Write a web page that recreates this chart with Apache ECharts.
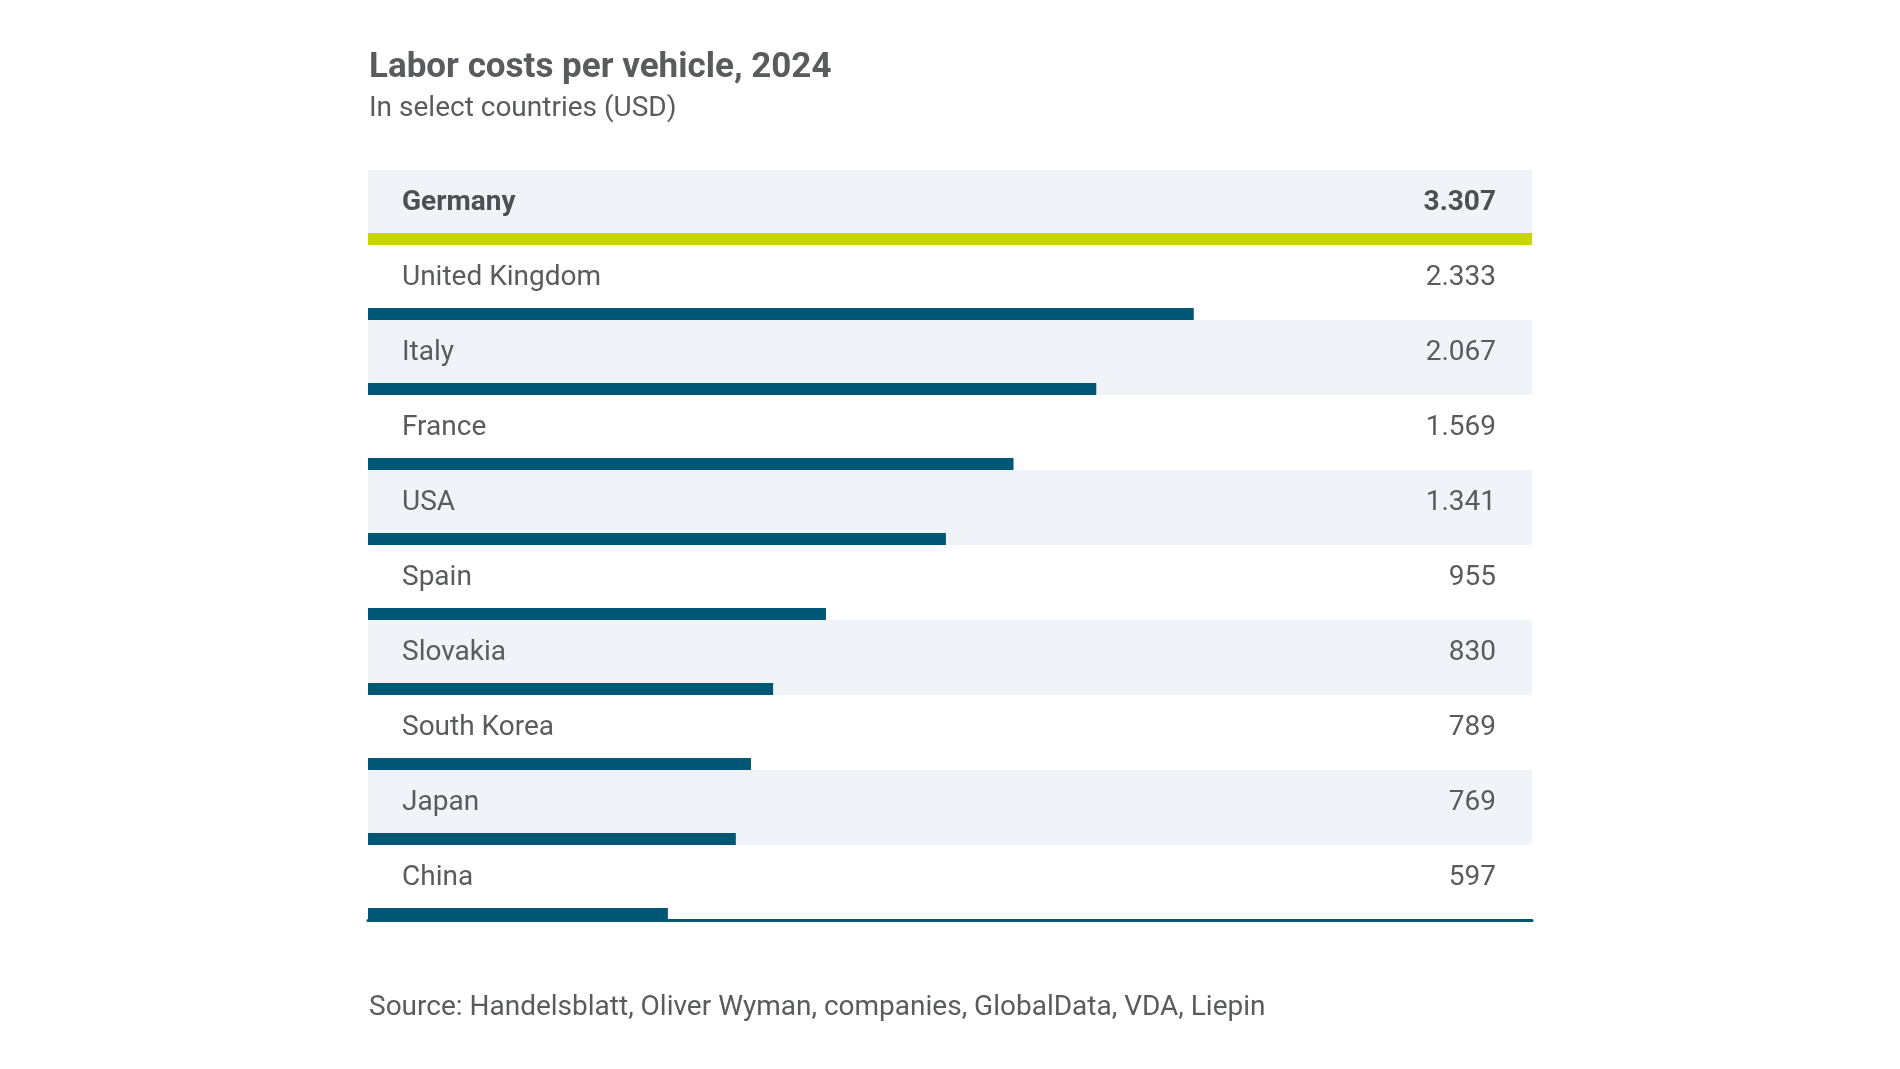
<!DOCTYPE html>
<html>
<head>
<meta charset="utf-8">
<script src="https://cdn.jsdelivr.net/npm/echarts@6/dist/echarts.min.js"></script>
<style>
  html, body { margin: 0; padding: 0; background: #ffffff; }
  #chart { width: 1900px; height: 1069px; }
</style>
</head>
<body>
<div id="chart"></div>
<script>
// ---- data ----
const countries = ['Germany', 'United Kingdom', 'Italy', 'France', 'USA', 'Spain', 'Slovakia', 'South Korea', 'Japan', 'China'];
// printed values (USD)
const values = [3307, 2333, 2067, 1569, 1341, 955, 830, 789, 769, 597];
// bar lengths as drawn in the picture, in the same USD axis (Germany bar = full width)
const barLengths = [3307, 2346, 2069, 1834, 1642, 1301, 1151, 1088, 1045, 852];
const axisMax = 3307;
const titleText = 'Labor costs per vehicle, 2024';
const subtitleText = 'In select countries (USD)';
const sourceText = 'Source: Handelsblatt, Oliver Wyman, companies, GlobalData, VDA, Liepin';

// ---- styles ----
const FONT = 'Roboto';
const GREY = '#5a5b5e';
const TEAL = '#005775';
const GREEN = '#c8d400';
const BAND = '#f0f4f9';

function fmt(v) {
  return String(v).replace(/\B(?=(\d{3})+(?!\d))/g, '.');
}
const valueLabels = values.map(fmt);

const chart = echarts.init(document.getElementById('chart'));

const labelRich = {
  n: { fontFamily: FONT, fontSize: 28, color: GREY },
  hl: { fontFamily: FONT, fontSize: 28, color: '#4e4f52', fontWeight: 'bold' }
};

chart.setOption({
  backgroundColor: '#ffffff',
  animation: false,
  title: [
    {
      text: titleText, left: 369, top: 51, padding: 0,
      textStyle: { fontFamily: FONT, fontSize: 35, fontWeight: 'bold', color: GREY }
    },
    {
      text: subtitleText, left: 369, top: 95, padding: 0,
      textStyle: { fontFamily: FONT, fontSize: 28, fontWeight: 'normal', color: GREY }
    },
    {
      text: sourceText, left: 369, top: 994, padding: 0,
      textStyle: { fontFamily: FONT, fontSize: 28, fontWeight: 'normal', color: GREY }
    }
  ],
  grid: { left: 368, right: 368, top: 170, bottom: 149, containLabel: false },
  xAxis: {
    type: 'value', min: 0, max: axisMax,
    axisLine: { show: true, lineStyle: { color: TEAL, width: 3 } },
    axisTick: { show: false },
    axisLabel: { show: false },
    splitLine: { show: false }
  },
  yAxis: [
    {
      type: 'category', data: countries, inverse: true, position: 'left',
      axisLine: { show: false }, axisTick: { show: false },
      splitArea: { show: true, areaStyle: { color: [BAND, '#ffffff'] } },
      axisLabel: {
        inside: true, margin: 34, padding: [0, 0, 10, 0],
        formatter: (v, i) => (i === 0 ? '{hl|' + v + '}' : '{n|' + v + '}'),
        rich: labelRich
      }
    },
    {
      type: 'category', data: valueLabels, inverse: true, position: 'right',
      axisLine: { show: false }, axisTick: { show: false },
      splitArea: { show: false }, splitLine: { show: false },
      axisLabel: {
        inside: true, margin: 36, padding: [0, 0, 10, 0],
        formatter: (v, i) => (i === 0 ? '{hl|' + v + '}' : '{n|' + v + '}'),
        rich: labelRich
      }
    }
  ],
  series: [
    {
      type: 'custom',
      xAxisIndex: 0, yAxisIndex: 0,
      encode: { x: 0, y: 1 },
      data: countries.map((c, i) => [barLengths[i], c]),
      renderItem: function (params, api) {
        const cat = api.value(1);
        const p0 = api.coord([0, cat]);
        const p1 = api.coord([api.value(0), cat]);
        const band = api.size([0, 1])[1];
        const h = 12;
        return {
          type: 'rect',
          shape: { x: p0[0], y: p0[1] + band / 2 - h, width: p1[0] - p0[0], height: h },
          style: { fill: params.dataIndex === 0 ? GREEN : TEAL }
        };
      },
      z: 5
    }
  ]
});
</script>
</body>
</html>
